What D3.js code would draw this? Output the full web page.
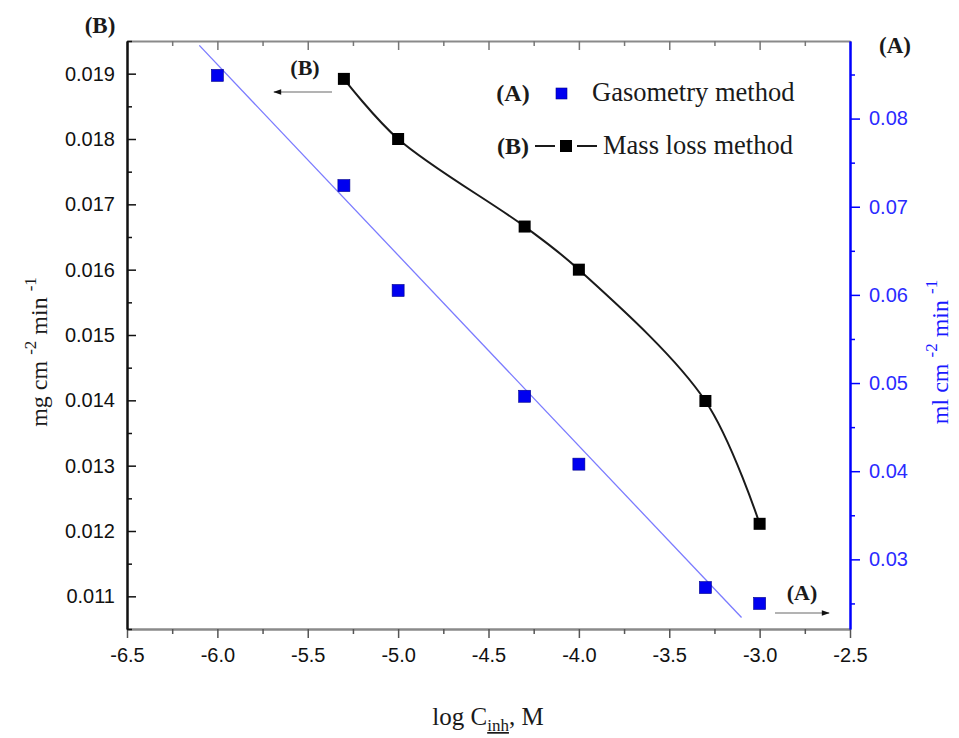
<!DOCTYPE html>
<html>
<head>
<meta charset="utf-8">
<script src="https://cdn.jsdelivr.net/npm/d3@7"></script>
<style>
  body { margin: 0; background: #fff; }
  svg text { font-family: "Liberation Sans", Arial, sans-serif; }
  svg .serif { font-family: "Liberation Serif", "Times New Roman", serif; }
</style>
</head>
<body>
<div id="chart"></div>
<script>
// (B) mass loss method, left axis
const massConc = [-5.3, -5.0, -4.3, -4.0, -3.3, -3.0];
const massRate = [0.01892, 0.0180, 0.01666, 0.0160, 0.01399, 0.01211];
// (A) gasometry method, right axis
const gasoConc = [-6.0, -5.3, -5.0, -4.3, -4.0, -3.3, -3.0];
const gasoRate = [0.0849, 0.0724, 0.0605, 0.0485, 0.0408, 0.0268, 0.0250];
// fitted straight line for (A), end points
const fitConc = [-6.1, -3.1];
const fitRate = [0.0883, 0.0234];

const xTicks = [-6.5, -6.0, -5.5, -5.0, -4.5, -4.0, -3.5, -3.0, -2.5];
const xMinor = [-6.25, -5.75, -5.25, -4.75, -4.25, -3.75, -3.25, -2.75];
const leftTicks = [0.011, 0.012, 0.013, 0.014, 0.015, 0.016, 0.017, 0.018, 0.019];
const leftMinor = [0.0105, 0.0115, 0.0125, 0.0135, 0.0145, 0.0155, 0.0165, 0.0175, 0.0185, 0.0195];
const rightTicks = [0.03, 0.04, 0.05, 0.06, 0.07, 0.08];
const rightMinor = [0.025, 0.035, 0.045, 0.055, 0.065, 0.075, 0.085];

const w = 959;
const h = 738;
const pLeft = 127, pRight = 850, pTop = 41, pBottom = 629;

const svg = d3.select("#chart").append("svg")
  .attr("width", w)
  .attr("height", h);

const x = d3.scaleLinear().domain([-6.5, -2.5]).range([pLeft, pRight]);
const yL = d3.scaleLinear().domain([0.0105, 0.0195]).range([pBottom, pTop]);
const yR = d3.scaleLinear().domain([0.0221, 0.0888]).range([pBottom, pTop]);

const defs = svg.append("defs");
defs.append("marker")
  .attr("id", "head")
  .attr("viewBox", "0 0 10 10")
  .attr("refX", 9).attr("refY", 5)
  .attr("markerWidth", 12).attr("markerHeight", 8)
  .attr("markerUnits", "userSpaceOnUse")
  .attr("orient", "auto")
  .append("path")
  .attr("d", "M0,1.5 L10,5 L0,8.5 Z")
  .attr("fill", "#111");

function styleAxis(g, color, width) {
  g.select(".domain").attr("stroke", color).attr("stroke-width", width);
  g.selectAll(".tick line").attr("stroke", color).attr("stroke-width", 1.5);
}

const hyphen = f => d => d3.format(f)(d).replace("\u2212", "-");

// bottom axis
const gx = svg.append("g").attr("transform", `translate(0,${pBottom})`)
  .call(d3.axisBottom(x).tickValues(xTicks).tickFormat(hyphen(".1f"))
    .tickSizeOuter(0).tickSizeInner(9).tickPadding(10));
styleAxis(gx, "#8a8a8a", 2.5);
gx.selectAll(".tick line").attr("stroke", "#555");
gx.selectAll("text").attr("font-size", 20).attr("fill", "#111");
svg.append("g").attr("transform", `translate(0,${pBottom})`)
  .call(d3.axisBottom(x).tickValues(xMinor).tickFormat("").tickSizeOuter(0).tickSize(5))
  .call(g => { g.select(".domain").remove(); g.selectAll("line").attr("stroke", "#555").attr("stroke-width", 1.5); });

// top axis, ticks pointing in
const gt = svg.append("g").attr("transform", `translate(0,${pTop})`)
  .call(d3.axisTop(x).tickValues(xTicks).tickFormat("").tickSizeOuter(0).tickSizeInner(-9));
styleAxis(gt, "#8a8a8a", 2);
gt.selectAll(".tick line").attr("stroke", "#777");
svg.append("g").attr("transform", `translate(0,${pTop})`)
  .call(d3.axisTop(x).tickValues(xMinor).tickFormat("").tickSizeOuter(0).tickSize(-5))
  .call(g => { g.select(".domain").remove(); g.selectAll("line").attr("stroke", "#777").attr("stroke-width", 1.5); });

// left axis (B), ticks pointing in
const gl = svg.append("g").attr("transform", `translate(${pLeft},0)`)
  .call(d3.axisLeft(yL).tickValues(leftTicks).tickFormat(hyphen(".3f"))
    .tickSizeOuter(0).tickSizeInner(-9).tickPadding(12));
styleAxis(gl, "#111", 2.5);
gl.selectAll("text").attr("font-size", 20).attr("fill", "#111");
svg.append("g").attr("transform", `translate(${pLeft},0)`)
  .call(d3.axisLeft(yL).tickValues(leftMinor).tickFormat("").tickSizeOuter(0).tickSize(-5))
  .call(g => { g.select(".domain").remove(); g.selectAll("line").attr("stroke", "#111").attr("stroke-width", 1.5); });

// right axis (A), ticks pointing out
const gr = svg.append("g").attr("transform", `translate(${pRight},0)`)
  .call(d3.axisRight(yR).tickValues(rightTicks).tickFormat(hyphen(".2f"))
    .tickSizeOuter(0).tickSizeInner(10).tickPadding(9));
styleAxis(gr, "#0000ff", 2.5);
gr.selectAll("text").attr("font-size", 20).attr("fill", "#2a2aff");
svg.append("g").attr("transform", `translate(${pRight},0)`)
  .call(d3.axisRight(yR).tickValues(rightMinor.filter(v => yR(v) > pTop)).tickFormat("").tickSizeOuter(0).tickSize(5))
  .call(g => { g.select(".domain").remove(); g.selectAll("line").attr("stroke", "#0000ff").attr("stroke-width", 1.5); });

// fitted line (A)
const fitPts = fitConc.map((c, i) => [c, fitRate[i]]);
svg.append("path")
  .attr("d", d3.line().x(d => x(d[0])).y(d => yR(d[1]))(fitPts))
  .attr("fill", "none")
  .attr("stroke", "#7b7bff")
  .attr("stroke-width", 1.3);

// smooth curve (B)
const massPts = massConc.map((c, i) => [c, massRate[i]]);
svg.append("path")
  .attr("d", d3.line().x(d => x(d[0])).y(d => yL(d[1])).curve(d3.curveCatmullRom.alpha(0.5))(massPts))
  .attr("fill", "none")
  .attr("stroke", "#1a1a1a")
  .attr("stroke-width", 2);

const sq = 12;
svg.selectAll("rect.mass").data(massPts).enter().append("rect")
  .attr("class", "mass")
  .attr("x", d => x(d[0]) - sq / 2).attr("y", d => yL(d[1]) - sq / 2)
  .attr("width", sq).attr("height", sq)
  .attr("fill", "#000");

const gasoPts = gasoConc.map((c, i) => [c, gasoRate[i]]);
svg.selectAll("rect.gaso").data(gasoPts).enter().append("rect")
  .attr("class", "gaso")
  .attr("x", d => x(d[0]) - sq / 2).attr("y", d => yR(d[1]) - sq / 2)
  .attr("width", sq).attr("height", sq)
  .attr("fill", "#0000f0")
  .attr("stroke", "#00008a").attr("stroke-width", 0.6);

// arrows pointing to each axis
svg.append("line").attr("x1", 332).attr("y1", 92).attr("x2", 274).attr("y2", 92)
  .attr("stroke", "#9a9a9a").attr("stroke-width", 1.5).attr("marker-end", "url(#head)");
svg.append("line").attr("x1", 775).attr("y1", 613).attr("x2", 829).attr("y2", 613)
  .attr("stroke", "#9a9a9a").attr("stroke-width", 1.5).attr("marker-end", "url(#head)");

function tag(t, cx, by, size) {
  svg.append("text").attr("class", "serif")
    .attr("x", cx).attr("y", by)
    .attr("text-anchor", "middle")
    .attr("font-size", size).attr("font-weight", "bold")
    .attr("fill", "#1a1a1a")
    .text(t);
}
tag("(B)", 100, 33, 23);
tag("(A)", 895, 53, 23);
tag("(B)", 305, 75, 22);
tag("(A)", 802, 600, 22);

// legend
tag("(A)", 513, 101, 24);
svg.append("rect").attr("x", 556).attr("y", 88).attr("width", 11).attr("height", 11)
  .attr("fill", "#0000f0").attr("stroke", "#00008a").attr("stroke-width", 0.6);
svg.append("text").attr("class", "serif").attr("x", 592).attr("y", 101)
  .attr("font-size", 26.5).attr("fill", "#1a1a1a").text("Gasometry method");

tag("(B)", 513, 154, 24);
svg.append("line").attr("x1", 535).attr("x2", 555).attr("y1", 146).attr("y2", 146)
  .attr("stroke", "#1a1a1a").attr("stroke-width", 2);
svg.append("line").attr("x1", 577).attr("x2", 597).attr("y1", 146).attr("y2", 146)
  .attr("stroke", "#1a1a1a").attr("stroke-width", 2);
svg.append("rect").attr("x", 560).attr("y", 140).attr("width", 12).attr("height", 12).attr("fill", "#000");
svg.append("text").attr("class", "serif").attr("x", 603).attr("y", 154)
  .attr("font-size", 26.5).attr("fill", "#1a1a1a").text("Mass loss method");

// axis titles
const xt = svg.append("text").attr("class", "serif")
  .attr("x", 488).attr("y", 725).attr("text-anchor", "middle")
  .attr("font-size", 25).attr("fill", "#1a1a1a");
xt.append("tspan").text("log C");
xt.append("tspan").attr("dy", 6).attr("font-size", 17).attr("text-decoration", "underline").text("inh");
xt.append("tspan").attr("dy", -6).text(", M");

function yTitle(cx, cy, main, color) {
  const t = svg.append("text").attr("class", "serif")
    .attr("transform", `translate(${cx},${cy}) rotate(-90)`)
    .attr("text-anchor", "middle")
    .attr("font-size", 24).attr("fill", color);
  t.append("tspan").text(main + " cm ");
  t.append("tspan").attr("dy", -11).attr("font-size", 17).text("-2");
  t.append("tspan").attr("dy", 11).text(" min ");
  t.append("tspan").attr("dy", -11).attr("font-size", 17).text("-1");
}
yTitle(47, 352, "mg", "#1a1a1a");
yTitle(948, 352, "ml", "#1a1aff");
</script>
</body>
</html>
